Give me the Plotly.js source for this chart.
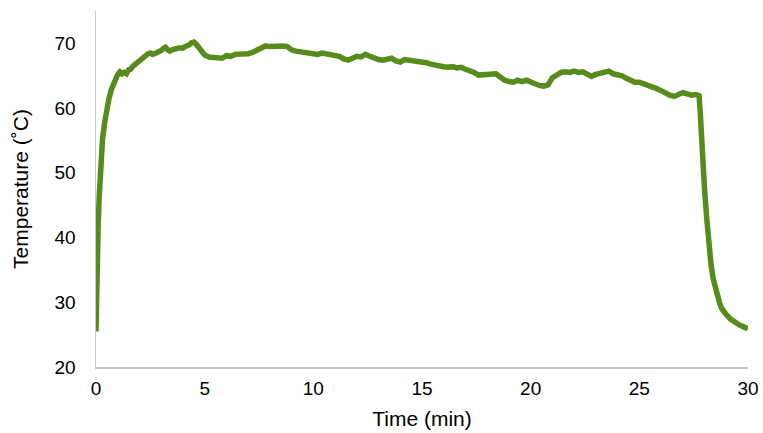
<!DOCTYPE html>
<html>
<head>
<meta charset="utf-8">
<script src="https://cdn.plot.ly/plotly-3.0.1.min.js"></script>
<style>html,body{margin:0;padding:0;background:#fff;}#chart{width:763px;height:433px;}</style>
</head>
<body>
<div id="chart"></div>
<script>
const timeMin = [0,0.02,0.05,0.1,0.15,0.2,0.25,0.3,0.4,0.5,0.6,0.7,0.8,0.9,1.0,1.1,1.2,1.3,1.4,1.5,
1.6,1.7,1.8,1.9,2.0,2.1,2.2,2.3,2.4,2.5,2.6,2.7,2.8,2.9,3.0,3.1,3.2,3.3,3.4,3.5,3.6,3.7,3.8,3.9,4.0,4.1,4.2,4.3,4.4,4.5,4.6,4.7,4.8,4.9,5.0,5.2,5.4,5.6,5.8,6.0,6.2,6.4,6.6,6.8,7.0,7.2,7.4,7.6,7.8,8.0,8.2,8.4,8.6,8.8,9.0,9.2,9.4,9.6,9.8,10.0,10.2,10.4,10.6,10.8,11.0,11.2,11.4,11.6,11.8,12.0,12.2,12.4,12.6,12.8,13.0,13.2,13.4,13.6,13.8,14.0,14.2,14.4,14.6,14.8,15.0,15.2,15.4,15.6,15.8,16.0,16.2,16.4,16.6,16.8,17.0,17.2,17.4,17.6,17.8,18.0,18.2,18.4,18.6,18.8,19.0,19.2,19.4,19.6,19.8,20.0,20.2,20.4,20.6,20.8,21.0,21.2,21.4,21.6,21.8,22.0,22.2,22.4,22.6,22.8,23.0,23.2,23.4,23.6,23.8,24.0,24.2,24.4,24.6,24.8,25.0,25.2,25.4,25.6,25.8,26.0,26.2,26.4,26.6,26.8,27.0,27.2,27.4,27.6,27.75,27.8,27.85,27.9,28.0,28.1,28.2,28.3,28.4,28.5,28.6,28.7,28.8,28.9,29.0,29.2,29.4,29.6,29.8,30.0];
const temperatureC = [25.5,31,37,42,46.5,50,53,55.2,57.8,60,61.5,62.8,63.8,64.6,65.2,65.6,65.3,65.5,65.3,65.9,
66.0,66.5,66.8,67.1,67.3,67.6,67.9,68.2,68.4,68.5,68.3,68.4,68.5,68.7,68.9,69.2,69.4,69.0,68.8,69.0,69.0,69.2,69.3,69.2,69.3,69.5,69.6,69.8,70.1,70.2,69.9,69.4,68.9,68.5,68.2,67.9,67.9,67.7,67.7,68.1,68.0,68.3,68.3,68.2,68.4,68.6,68.9,69.1,69.6,69.5,69.6,69.5,69.6,69.5,69.0,68.8,68.7,68.5,68.3,68.4,68.3,68.5,68.4,68.2,68.3,68.0,67.6,67.4,67.7,68.0,67.9,68.3,68.0,67.7,67.5,67.4,67.6,67.7,67.3,67.1,67.5,67.4,67.4,67.2,67.3,67.0,66.8,66.6,66.5,66.4,66.3,66.4,66.2,66.3,66.0,65.8,65.5,65.1,65.2,65.3,65.2,65.3,64.8,64.3,64.1,64.0,64.3,64.1,64.3,64.0,63.7,63.5,63.4,63.6,64.7,65.2,65.5,65.6,65.5,65.7,65.5,65.6,65.2,64.9,65.2,65.4,65.6,65.7,65.3,65.2,65.0,64.6,64.2,64.0,64.0,63.8,63.5,63.3,63.0,62.7,62.3,62.0,61.8,62.1,62.4,62.2,62.0,62.1,61.9,59.5,56,52.5,47.5,43,38.8,35.8,33.6,32.0,30.8,29.8,29.0,28.5,28.1,27.4,26.9,26.5,26.2,25.9];
const xTicks = [0,5,10,15,20,25,30];
const yTicks = [20,30,40,50,60,70];

const trace = {
  x: timeMin, y: temperatureC, type: 'scatter', mode: 'lines',
  line: {color: '#578b1c', width: 5.5}, hoverinfo: 'skip'
};
const layout = {
  width: 763, height: 433,
  margin: {l: 96, r: 15, t: 11, b: 66},
  paper_bgcolor: '#fff', plot_bgcolor: '#fff',
  showlegend: false,
  font: {family: 'Liberation Sans, Arial, sans-serif', color: '#000', size: 19},
  xaxis: {
    range: [0, 30], tickvals: xTicks, ticktext: xTicks.map(String),
    showgrid: false, zeroline: false, showline: true, linecolor: '#c8c8c8', linewidth: 1.5,
    ticks: '', tickfont: {size: 19}, ticklabelstandoff: 4,
    title: {text: 'Time (min)', font: {size: 21}, standoff: 13}
  },
  yaxis: {
    range: [20, 75], tickvals: yTicks, ticktext: yTicks.map(String),
    showgrid: false, zeroline: false, showline: true, linecolor: '#c8c8c8', linewidth: 1.5,
    ticks: '', tickfont: {size: 19}, ticklabelstandoff: 15,
    title: {text: 'Temperature (˚C)', font: {size: 21}, standoff: 20}
  }
};
Plotly.newPlot('chart', [trace], layout, {displayModeBar: false, staticPlot: true});
</script>
</body>
</html>
